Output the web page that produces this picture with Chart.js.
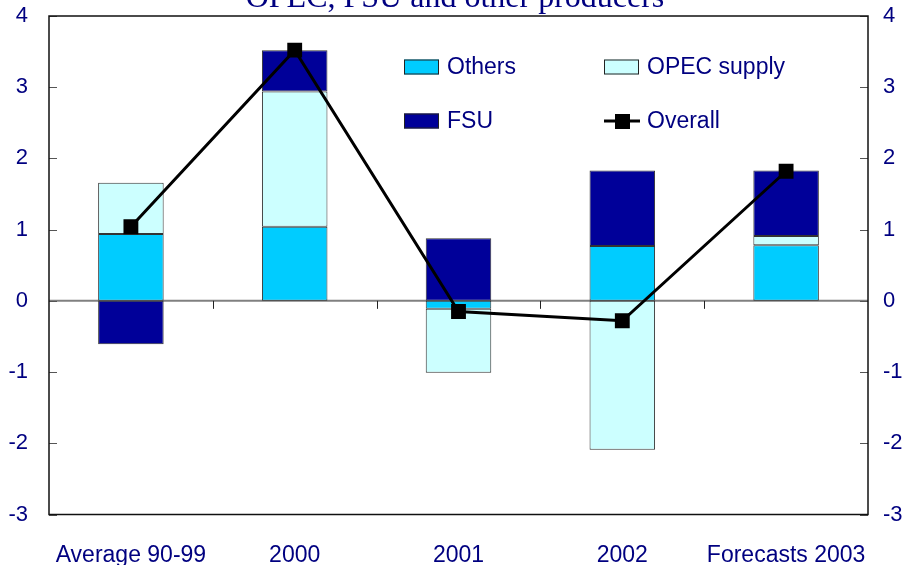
<!DOCTYPE html>
<html lang="en">

<head>
    <meta charset="UTF-8">
    <meta name="viewport" content="width=device-width, initial-scale=1.0">
    <script src="https://cdn.jsdelivr.net/npm/chart.js"></script>
    <title>OPEC, FSU and other producers</title>
    <style>
        html, body { margin: 0; padding: 0; background: #ffffff; }
        .caixa-grafico { position: relative; width: 911px; height: 565px; }
    </style>
</head>

<body>
    <div class="caixa-grafico">
        <canvas id="myChart" width="911" height="565"></canvas>
    </div>

    <script>
        const labels = ['Average 90-99', '2000', '2001', '2002', 'Forecasts 2003']
        const others = [0.94, 1.04, -0.11, 0.77, 0.78]
        const opecSupply = [0.72, 1.90, -0.90, -2.09, 0.13]
        const fsu = [-0.61, 0.58, 0.88, 1.06, 0.92]
        const overall = [1.04, 3.52, -0.15, -0.28, 1.82]
        const yTicks = [-3, -2, -1, 0, 1, 2, 3, 4]

        const corTexto = '#000080'

        // frame, zero line, inward ticks, title and the legend inside the plot
        const extras = {
            id: 'extras',
            beforeDatasetsDraw(chart) {
                const ctx = chart.ctx
                const area = chart.chartArea
                const y = chart.scales.y
                const x = chart.scales.x
                ctx.save()

                // zero line
                const y0 = y.getPixelForValue(0)
                ctx.strokeStyle = '#808080'
                ctx.lineWidth = 2
                ctx.beginPath()
                ctx.moveTo(area.left, y0)
                ctx.lineTo(area.right, y0)
                ctx.stroke()

                // ticks between categories, under the zero line
                ctx.strokeStyle = '#222222'
                ctx.lineWidth = 1
                for (let i = 1; i < labels.length; i++) {
                    const xb = Math.round((x.getPixelForValue(i - 1) + x.getPixelForValue(i)) / 2) + 0.5
                    ctx.beginPath()
                    ctx.moveTo(xb, y0)
                    ctx.lineTo(xb, y0 + 8)
                    ctx.stroke()
                }

                // inward ticks on both value axes
                ctx.strokeStyle = '#555555'
                for (const v of yTicks) {
                    const yp = Math.round(y.getPixelForValue(v)) + 0.5
                    ctx.beginPath()
                    ctx.moveTo(area.left, yp)
                    ctx.lineTo(area.left + 8, yp)
                    ctx.moveTo(area.right, yp)
                    ctx.lineTo(area.right - 8, yp)
                    ctx.stroke()
                }

                // frame
                ctx.strokeStyle = '#111111'
                ctx.lineWidth = 1.5
                ctx.strokeRect(area.left, area.top, area.right - area.left, area.bottom - area.top)
                ctx.restore()
            },
            afterDraw(chart) {
                const ctx = chart.ctx
                ctx.save()

                // title, mostly cut by the top of the picture
                ctx.fillStyle = corTexto
                ctx.font = '32px "Liberation Serif", "Times New Roman", serif'
                ctx.textAlign = 'center'
                ctx.textBaseline = 'alphabetic'
                ctx.fillText('OPEC, FSU and other producers', 455, 7)

                // legend
                const itens = [
                    { ds: 0, x: 404, y: 67 },
                    { ds: 1, x: 604, y: 67 },
                    { ds: 2, x: 404, y: 121 },
                    { ds: 3, x: 604, y: 121 }
                ]
                ctx.font = '23px "Liberation Sans", Arial, sans-serif'
                ctx.textAlign = 'left'
                ctx.textBaseline = 'middle'
                for (const item of itens) {
                    const ds = chart.data.datasets[item.ds]
                    if (ds.type === 'line') {
                        ctx.strokeStyle = '#000000'
                        ctx.lineWidth = 3
                        ctx.beginPath()
                        ctx.moveTo(item.x, item.y)
                        ctx.lineTo(item.x + 36, item.y)
                        ctx.stroke()
                        ctx.fillStyle = '#000000'
                        ctx.fillRect(item.x + 11, item.y - 7, 15, 15)
                    } else {
                        ctx.fillStyle = ds.backgroundColor
                        ctx.fillRect(item.x, item.y - 7.5, 35, 15)
                        ctx.strokeStyle = '#222222'
                        ctx.lineWidth = 1
                        ctx.strokeRect(item.x + 0.5, item.y - 7, 34, 14)
                    }
                    ctx.fillStyle = corTexto
                    ctx.fillText(ds.label, item.x + 43, item.y + 1)
                }
                ctx.restore()
            }
        }

        const data = {
            labels: labels,
            datasets: [{
                label: 'Others',
                data: others,
                backgroundColor: '#00CCFF',
                borderColor: '#333333',
                borderWidth: 1,
                borderSkipped: false,
                stack: 'barras',
                order: 1
            }, {
                label: 'OPEC supply',
                data: opecSupply,
                backgroundColor: '#CCFFFF',
                borderColor: '#333333',
                borderWidth: 1,
                borderSkipped: false,
                stack: 'barras',
                order: 1
            }, {
                label: 'FSU',
                data: fsu,
                backgroundColor: '#000099',
                borderColor: '#333333',
                borderWidth: 1,
                borderSkipped: false,
                stack: 'barras',
                order: 1
            }, {
                type: 'line',
                label: 'Overall',
                data: overall,
                borderColor: '#000000',
                backgroundColor: '#000000',
                borderWidth: 3,
                pointStyle: 'rect',
                pointRadius: 10.5,
                pointBorderWidth: 0,
                tension: 0,
                stack: 'linha',
                order: 0
            }]
        };

        // the value axes must not push the plot down for their end labels
        function semFolga(scale, largura) {
            scale.width = largura
            scale.paddingTop = 0
            scale.paddingBottom = 0
        }

        const config = {
            type: 'bar',
            data: data,
            options: {
                responsive: false,
                animation: false,
                layout: { padding: { top: 16, bottom: 0, left: 0, right: 0 } },
                barPercentage: 0.4,
                categoryPercentage: 1,
                plugins: {
                    legend: { display: false },
                    tooltip: { enabled: false },
                    title: { display: false }
                },
                scales: {
                    x: {
                        stacked: true,
                        grid: { display: false, drawTicks: false },
                        border: { display: false },
                        ticks: {
                            color: corTexto,
                            font: { family: '"Liberation Sans", Arial, sans-serif', size: 23 },
                            padding: 27,
                            maxRotation: 0,
                            autoSkip: false
                        },
                        afterFit: function (scale) {
                            scale.height = 50.5
                            scale.paddingLeft = 0
                            scale.paddingRight = 0
                        }
                    },
                    y: {
                        stacked: true,
                        min: -3,
                        max: 4,
                        position: 'left',
                        grid: { display: false, drawTicks: false },
                        border: { display: false },
                        ticks: {
                            stepSize: 1,
                            color: corTexto,
                            font: { family: '"Liberation Sans", Arial, sans-serif', size: 22 },
                            padding: 21
                        },
                        afterFit: function (scale) { semFolga(scale, 49) }
                    },
                    y2: {
                        min: -3,
                        max: 4,
                        position: 'right',
                        grid: { display: false, drawTicks: false },
                        border: { display: false },
                        ticks: {
                            stepSize: 1,
                            color: corTexto,
                            font: { family: '"Liberation Sans", Arial, sans-serif', size: 22 },
                            padding: 15
                        },
                        afterFit: function (scale) { semFolga(scale, 43) }
                    }
                }
            },
            plugins: [extras]
        };

        var myChart = new Chart(
            document.getElementById('myChart'),
            config
        );
    </script>
</body>

</html>
